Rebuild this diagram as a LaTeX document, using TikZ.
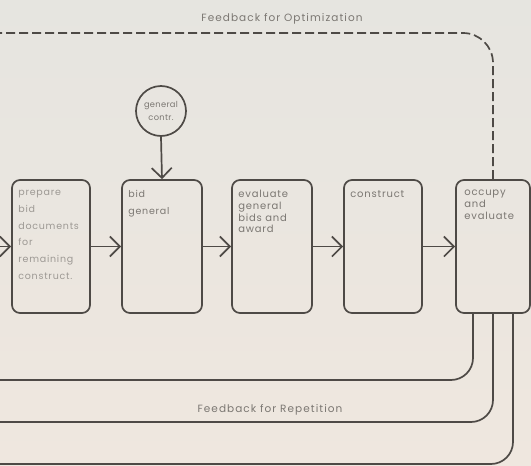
\documentclass[tikz,border=0pt]{standalone}
\usepackage{fontspec}
\newfontfamily\diagfont[LetterSpace=8]{Poppins}
\newfontfamily\capfont[LetterSpace=10]{Poppins}
\newfontfamily\smallfont[LetterSpace=4]{Poppins}
\usetikzlibrary{arrows.meta}

\definecolor{papertop}{HTML}{E6E5E0}
\definecolor{paperbot}{HTML}{EFE7DF}
\definecolor{ink}{HTML}{4E4A46}
\definecolor{txtgray}{HTML}{7B7772}
\definecolor{txtpale}{HTML}{9D9994}

\tikzset{
  stage/.style={draw=ink, line width=1.7pt, rounded corners=8pt,
    minimum height=133pt, inner sep=0pt},
  stagetext/.style={anchor=north west, inner sep=0pt, align=left,
    text=txtgray, font={\diagfont\fontsize{10}{11.7}\selectfont}},
  widetext/.style={stagetext, font={\diagfont\fontsize{9.5}{16.7}\selectfont}},
  source/.style={draw=ink, line width=1.7pt, circle, minimum size=50pt,
    inner sep=0pt, align=center, text=txtgray,
    font={\smallfont\fontsize{8.3}{12.5}\selectfont}},
  flow/.style={draw=ink, line width=1.7pt,
    -{Straight Barb[length=10pt,width=20pt,line width=1.7pt]}},
  loop/.style={draw=ink, line width=1.7pt, rounded corners=22pt},
  optloop/.style={loop, dash pattern=on 9pt off 4pt, rounded corners=30pt},
  caption/.style={text=txtgray, inner sep=0pt,
    font={\capfont\fontsize{10.5}{12}\selectfont}}
}

\begin{document}
\begin{tikzpicture}[x=1pt,y=-1pt]
  % paper
  \shade[top color=papertop, bottom color=paperbot] (0,0) rectangle (531,466);
  \useasboundingbox (0,0) rectangle (531,466);

  % process stages
  \node[stage, minimum width=78pt] (prep)   at (51,246.5)  {};
  \node[stage, minimum width=80pt] (bid)    at (162,246.5) {};
  \node[stage, minimum width=80pt] (eval)   at (272,246.5) {};
  \node[stage, minimum width=78pt] (build)  at (383,246.5) {};
  \node[stage, minimum width=74pt] (occupy) at (493,246.5) {};

  \node[widetext, text=txtpale] (preptxt) at ([shift={(7,11)}]prep.north west)
    {prepare\\bid\\documents\\for\\remaining\\construct.};
  \node[widetext] (bidtxt) at ([shift={(7,11)}]bid.north west) {bid\\general};
  \node[stagetext] (evaltxt) at ([shift={(7,11)}]eval.north west)
    {evaluate\\general\\bids and\\award};
  \node[stagetext] (buildtxt) at ([shift={(7,11)}]build.north west) {construct};
  \node[stagetext] (occtxt) at ([shift={(9,11)}]occupy.north west)
    {occupy\\and\\evaluate};

  % general contractor
  \node[source] (gc) at (161,111) {general\\contr.};

  % entry point and loop ends at the left margin
  \coordinate (entry) at (0,246.5);
  \coordinate (optend) at (0,33);
  \coordinate (rep1) at (0,380);
  \coordinate (rep2) at (0,422);
  \coordinate (rep3) at (0,464);

  % main flow
  \draw[flow] (entry) -- (prep.west);
  \draw[flow] (prep.east) -- (bid.west);
  \draw[flow] (bid.east) -- (eval.west);
  \draw[flow] (eval.east) -- (build.west);
  \draw[flow] (build.east) -- (occupy.west);
  \draw[flow] (gc.south) -- (bid.north);

  % feedback for optimization (dashed)
  \draw[optloop] (occupy.north) |- (optend);
  \node[caption] (optlbl) at (282,19) {Feedback for Optimization};

  % feedback for repetition
  \draw[loop] ([xshift=-20pt]occupy.south) |- (rep1);
  \draw[loop] (occupy.south) |- (rep2);
  \draw[loop] ([xshift=20pt]occupy.south) |- (rep3);
  \node[caption] (replbl) at (270,410) {Feedback for Repetition};
\end{tikzpicture}
\end{document}
